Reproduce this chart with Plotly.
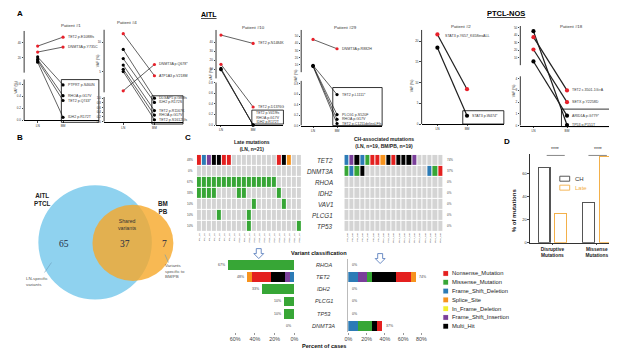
import plotly.graph_objects as go

W, H = 617, 349
FONT = "Liberation Sans, Arial, sans-serif"
SERIF = "Liberation Serif, Times New Roman, serif"
RED = "#e8212b"
INK = "#262626"

# ======================= DATA =======================
# Panel A : VAF (%) in lymph node (LN) and bone marrow (BM)
p1_names = ["TET2 p.E1088fs", "DNMT3A p.Y735C", "PTPRT p.S460N", "RHOA p.G17V", "TET2 p.Q743*", "IDH2 p.R172T"]
p1_ln = [35.6, 27.6, 21, 18, 16, 14]
p1_bm = [47.6, 34.3, 0.59, 0.41, 0.33, 0.05]
p1_red = [1, 1, 0, 0, 0, 0]

p4_names = ["ATP1A3 p.V218M", "DNMT3A p.Q678*", "DLGAP5 p.G88fs", "IDH2 p.R172S", "TET2 p.R1167K", "RHOA p.G17V", "TET2 p.S1612Lfs"]
p4_ln = [11.4, 1.76, 8.75, 7.2, 6.1, 5.4, 5.0]
p4_bm = [4.3, 6.2, 1.0, 0.82, 0.47, 0.28, 0.08]
p4_red = [1, 1, 0, 0, 0, 0, 0]

p10_names = ["TET2 p.N1484K", "TET2 p.D1376G", "TET2 p.V419fs", "RHOA p.G17V", "IDH2 p.R172T"]
p10_ln = [47.7, 15.5, 11, 10, 9.5]
p10_bm = [38.5, 0.34, 0, 0, 0]
p10_red = [1, 1, 0, 0, 0]

p29_names = ["DNMT3A p.R882H", "TET2 p.L1111*", "PLCG1 p.S520F", "RHOA p.G17V", "TET2 p.C1211delinsLFfs"]
p29_ln = [45.4, 9.5, 9, 8.5, 8]
p29_bm = [32.5, 0.59, 0.21, 0.12, 0.04]
p29_red = [1, 0, 0, 0, 0]

p2_names = ["STAT3 p.Y657_K658insALL", "STAT3 p.W474*"]
p2_ln = [21.6, 18.4]
p2_bm = [8.4, 2.0]
p2_red = [1, 0]

p18_names = ["TET2 c.3501-1G>A", "SETX p.Y2258D", "ARID1A p.G779*", "TP53 p.P151T"]
p18_ln = [37.6, 21, 5, 45.6]
p18_bm = [3.0, 2.0, 0.85, 0.05]
p18_red = [1, 1, 0, 0]

# Panel B : Venn counts
venn_ln_only = 65
venn_shared = 37
venn_bm_only = 7

# Panel C : oncoprints (codes: . none, M missense, N nonsense, D frameshift del,
#           S splice, I in-frame del, F frameshift ins, X multi hit)
heat_genes = ["TET2", "DNMT3A", "RHOA", "IDH2", "VAV1", "PLCG1", "TP53"]
late_samples = ["Pt%d_LN" % i for i in [1, 3, 4, 5, 6, 7, 8, 9, 10, 11, 12, 13, 14, 15, 16, 17, 18, 19, 20, 21, 22]]
late_TET2 = "NDFXXNN.........NXS.."
late_DNMT3A = "....................."
late_RHOA = "MMMMMMMMMMMMMMMM....."
late_IDH2 = "MMMM....MM......M...."
late_VAV1 = "...........M.....M..."
late_PLCG1 = "....M.....M.........."
late_TP53 = "..........M.........M"
late_pct = ["48%", "0%", "67%", "33%", "10%", "10%", "10%"]

ch_samples = ["Pt%d_BM" % i for i in [1, 2, 4, 5, 6, 8, 9, 10, 11, 12, 14, 15, 16, 17, 18, 19, 20, 21, 29]]
ch_TET2 = "DFXDMNNSXNXXXF....."
ch_DNMT3A = "MDMX............DMN"
ch_RHOA = "..................."
ch_IDH2 = "..................."
ch_VAV1 = "..................."
ch_PLCG1 = "..................."
ch_TP53 = "..................."
ch_pct = ["74%", "37%", "0%", "0%", "0%", "0%", "0%"]

# Panel C : variant classification bars (% of cases)
bar_genes = ["RHOA", "TET2", "IDH2", "PLCG1", "TP53", "DNMT3A"]
late_fsd = [0, 4.8, 0, 0, 0, 0]
late_fsi = [0, 4.8, 0, 0, 0, 0]
late_mis = [67, 0, 33, 10, 10, 0]
late_multi = [0, 14.3, 0, 0, 0, 0]
late_non = [0, 19.0, 0, 0, 0, 0]
late_spl = [0, 4.8, 0, 0, 0, 0]
late_bar_labels = ["67%", "48%", "33%", "10%", "10%", "0%"]
ch_fsd = [0, 10.5, 0, 0, 0, 10.5]
ch_fsi = [0, 10.5, 0, 0, 0, 0]
ch_mis = [0, 5.3, 0, 0, 0, 15.8]
ch_multi = [0, 26.3, 0, 0, 0, 5.3]
ch_non = [0, 15.8, 0, 0, 0, 5.3]
ch_spl = [0, 5.3, 0, 0, 0, 0]
ch_bar_labels = ["0%", "74%", "0%", "0%", "0%", "37%"]
pct_ticks = [0, 20, 40, 60, 80]

# Panel D
d_categories = ["<b>Disruptive<br>Mutations</b>", "<b>Missense<br>Mutations</b>"]
d_ch = [65, 35]
d_late = [25, 75]
d_ticks = [0, 20, 40, 60]

# ======================= STYLE =======================
class_codes = ".MNDSIFX"
class_names = ["None", "Missense_Mutation", "Nonsense_Mutation", "Frame_Shift_Deletion",
               "Splice_Site", "In_Frame_Deletion", "Frame_Shift_Insertion", "Multi_Hit"]
class_colors = ["#d4d4d4", "#37a636", "#e4201f", "#2c7bb6", "#f7931e", "#f2ee2c", "#7a3f9a", "#000000"]
COL = dict(zip(class_names, class_colors))


def px(x):
    return x / W


def py(y):
    return 1 - y / H


def ref(n, k):
    return k if n == 1 else f"{k}{n}"


def axkey(n, k):
    return f"{k}axis" if n == 1 else f"{k}axis{n}"


fig = go.Figure()
shapes, ann, axes = [], [], {}


def text(x, y, s, size, color=INK, xanchor="center", yanchor="middle", angle=0, family=FONT, **kw):
    d = dict(x=px(x), y=py(y), xref="paper", yref="paper", text=s, showarrow=False,
             xanchor=xanchor, yanchor=yanchor, textangle=angle,
             font=dict(size=size, color=color, family=family))
    d.update(kw)
    ann.append(d)


def rect(x0, y0, x1, y1, line="black", width=0.8, fill="rgba(0,0,0,0)"):
    shapes.append(dict(type="rect", xref="paper", yref="paper", x0=px(x0), x1=px(x1),
                       y0=py(y1), y1=py(y0), line=dict(color=line, width=width), fillcolor=fill))


def line(x0, y0, x1, y1, color="black", width=0.8):
    shapes.append(dict(type="line", xref="paper", yref="paper", x0=px(x0), x1=px(x1),
                       y0=py(y0), y1=py(y1), line=dict(color=color, width=width)))


# ======================= PANEL A =======================
patients = [
    dict(names=p1_names, ln=p1_ln, bm=p1_bm, red=p1_red, title="Patient #1",
         xl=12.3, xr=88, lnx=26, bmx=51.7, top=23, bot=113,
         lower=(0, 0, 0.68, 41.1), upper=(0, 48, 56, 90), tl=[0, 0.2, 0.4, 0.6], tu=[20, 40], lf="{:.1f}",
         tx=60, ty=18, vx=3.3, vy=80, box=(50, 72, 88, 115), boxlist=[], lnlab=[], lw=0.7, ms=3.2),
    dict(names=p4_names, ln=p4_ln, bm=p4_bm, red=p4_red, title="Patient #4",
         xl=93.3, xr=173.3, lnx=112.7, bmx=144.3, top=21.7, bot=115,
         lower=(0, 0.7, 1.05, 25.5), upper=(1.5, 30.2, 12.1, 93.3), tl=[0, 0.2, 0.4, 0.6, 0.8, 1.0], tu=[5, 10], lf="{:.1f}",
         tx=116.7, ty=15, vx=87.3, vy=53.3, box=(141.7, 88.3, 173.3, 116.7), boxlist=[], lnlab=[], lw=0.7, ms=3.2),
    dict(names=p10_names, ln=p10_ln, bm=p10_bm, red=p10_red, title="Patient #10",
         xl=206.7, xr=275, lnx=211.7, bmx=244.3, top=22, bot=117.7,
         lower=(0, 0, 0.8, 42.7), upper=(0, 46.9, 53.4, 95.7), tl=[0, 0.2, 0.4, 0.6, 0.8], tu=[10, 20, 30, 40], lf="{:.1f}",
         tx=244.3, ty=19.3, vx=201.7, vy=66.7, box=(243, 102.7, 275, 116.7), boxlist=[2, 3, 4], lnlab=[], lw=0.7, ms=3.2),
    dict(names=p29_names, ln=p29_ln, bm=p29_bm, red=p29_red, title="Patient #29",
         xl=293, xr=375, lnx=305, bmx=329.3, top=22, bot=118.3,
         lower=(0, 0, 0.85, 45), upper=(0, 53.75, 58.7, 96.3), tl=[0, 0.2, 0.4, 0.6, 0.8], tu=[10, 20, 30, 40, 50], lf="{:.1f}",
         tx=338.3, ty=19.3, vx=288, vy=68.3, box=(325, 80, 375, 118.3), boxlist=[], lnlab=[], lw=0.7, ms=3.2),
    dict(names=p2_names, ln=p2_ln, bm=p2_bm, red=p2_red, title="Patient #2",
         xl=415, xr=498.3, lnx=431, bmx=461, top=22, bot=116.7,
         lower=(0, 0, 22.7, 94.7), upper=None, tl=[0, 5, 10, 15, 20], tu=[], lf="{:g}",
         tx=455, ty=18.3, vx=405, vy=78, box=(456.7, 103.3, 498.3, 116.7), boxlist=[], lnlab=[0], lw=1.2, ms=4.2),
    dict(names=p18_names, ln=p18_ln, bm=p18_bm, red=p18_red, title="Patient #18",
         xl=515, xr=613, lnx=528.3, bmx=562.3, top=18, bot=118.3,
         lower=(0, 0, 4.2, 49.6), upper=(0, 60.8, 52.7, 100.3), tl=[0, 1, 2, 3, 4], tu=[10, 20, 30, 40, 50], lf="{:g}",
         tx=566.7, ty=18.3, vx=508.3, vy=83, box=(556.7, 101.7, 613.3, 119.3), boxlist=[], lnlab=[], lw=1.2, ms=4.2),
]


def seg_map(v, lower, upper):
    seg = lower if (upper is None or v <= lower[2]) else upper
    v0, p0, v1, p1 = seg
    return p0 + (v - v0) * (p1 - p0) / (v1 - v0)


for n, P in enumerate(patients, start=1):
    xr_, yr_ = ref(n, "x"), ref(n, "y")
    hh = P["bot"] - P["top"]
    span = P["bmx"] - P["lnx"]
    xrange = [-(P["lnx"] - P["xl"]) / span, 1 + (P["xr"] - P["bmx"]) / span]
    tickvals = [seg_map(t, P["lower"], P["upper"]) for t in P["tl"]] + \
               [seg_map(t, P["lower"], P["upper"]) for t in P["tu"]]
    ticktext = [P["lf"].format(t) for t in P["tl"]] + ["{:g}".format(t) for t in P["tu"]]
    order = [i for i in range(len(P["names"])) if not P["red"][i]] + [i for i in range(len(P["names"])) if P["red"][i]]
    for i in order:
        ya = seg_map(P["ln"][i], P["lower"], P["upper"])
        yb = seg_map(P["bm"][i], P["lower"], P["upper"])
        fig.add_trace(go.Scatter(x=[0, 1], y=[ya, yb], mode="lines+markers",
                                 line=dict(color="#1e1e1e", width=P["lw"]),
                                 marker=dict(color=RED if P["red"][i] else "black", size=P["ms"]),
                                 xaxis=xr_, yaxis=yr_, showlegend=False, hoverinfo="skip", cliponaxis=False))
        if i in P["boxlist"]:
            continue
        if i in P["lnlab"]:
            ann.append(dict(x=0, y=ya, xref=xr_, yref=yr_, text=P["names"][i], showarrow=False,
                            xanchor="left", xshift=6, yshift=-1.5, font=dict(size=3.6, color="#333", family=FONT)))
        else:
            ann.append(dict(x=1, y=yb, xref=xr_, yref=yr_, text=P["names"][i], showarrow=False,
                            xanchor="left", xshift=2.5, font=dict(size=3.6, color="#333", family=FONT)))
    if P["boxlist"]:
        bx0, by0, bx1, by1 = P["box"]
        text((bx0 + bx1) / 2, (by0 + by1) / 2, "<br>".join(P["names"][i] for i in P["boxlist"]), 3.5, "#333")
    # broken y-axis line
    segs = [P["lower"]] + ([P["upper"]] if P["upper"] else [])
    for j, s in enumerate(segs):
        top_p = hh if j == len(segs) - 1 else s[3]
        shapes.append(dict(type="line", xref=f"{xr_} domain", yref=yr_, x0=0, x1=0, y0=s[1], y1=top_p,
                           line=dict(color="black", width=0.8)))
    axes[axkey(n, "x")] = dict(domain=[px(P["xl"]), px(P["xr"])], range=xrange, anchor=yr_,
                               tickvals=[0, 1], ticktext=["LN", "BM"], showline=True, linecolor="black",
                               linewidth=0.8, ticks="outside", ticklen=1.5, tickwidth=0.6,
                               tickfont=dict(size=3.2, color="#333"), showgrid=False, zeroline=False)
    axes[axkey(n, "y")] = dict(domain=[py(P["bot"]), py(P["top"])], range=[0, hh], anchor=xr_,
                               tickvals=tickvals, ticktext=ticktext, ticks="outside", ticklen=1.5,
                               tickwidth=0.6, tickfont=dict(size=3.0, color="#333"), showline=False,
                               showgrid=False, zeroline=False)
    text(P["tx"], P["ty"], P["title"], 4.4, "#333")
    text(P["vx"], P["vy"], "VAF (%)", 3.4, "#333", angle=-90)
    bx0, by0, bx1, by1 = P["box"]
    rect(bx0, by0, bx1, by1, width=0.8)

text(2.7, 6, "<b>A</b>", 8, "black", xanchor="left")
text(200, 7, "<b><u>AITL</u></b>", 7, "black")
text(500, 6, "<b><u>PTCL-NOS</u></b>", 7.5, "black")

# ======================= PANEL B =======================
text(3.3, 130, "<b>B</b>", 8, "black", xanchor="left")
shapes.append(dict(type="circle", xref="paper", yref="paper", x0=px(26.7), x1=px(141.7),
                   y0=py(293.3), y1=py(178.3), fillcolor="#8fd2ef", line=dict(width=0)))
shapes.append(dict(type="circle", xref="paper", yref="paper", x0=px(81.5), x1=px(163.5),
                   y0=py(274.5), y1=py(198), fillcolor="rgba(246,168,40,0.80)", line=dict(width=0)))
text(31, 193, "<b>AITL<br>PTCL</b>", 6.3, "#222")
text(153, 201, "<b>BM<br>PB</b>", 6.3, "#222")
text(117, 218, "Shared<br>variants", 5.2, "#333")
text(53, 237, str(venn_ln_only), 9.5, "#1d2a44", family=SERIF)
text(114, 237, str(venn_shared), 9.5, "#1d2a44", family=SERIF)
text(154, 237, str(venn_bm_only), 9.5, "#1d2a44", family=SERIF)
text(11.7, 275.5, "LN-specific<br>variants", 4.4, "#555", xanchor="left", align="left")
line(40, 256, 33, 266, "#6a9ab8", 0.6)
text(153, 264.3, "Variants<br>specific to<br>BM/PB", 4.4, "#555", xanchor="left", align="left")
line(155, 248, 158.5, 256, "#6a9ab8", 0.6)

# ======================= PANEL C : heatmaps =======================
text(178.3, 130, "<b>C</b>", 8, "black")
text(243, 138, "<b>Late mutations<br>(LN, n=21)</b>", 5, "#222")
text(377, 135, "<b>CH-associated mutations<br>(LN, n=19, BM/PB, n=19)</b>", 5, "#222")

n_cls = len(class_colors)
cscale = []
for k, c in enumerate(class_colors):
    cscale += [[k / n_cls, c], [(k + 1) / n_cls, c]]

late_rows = [late_TET2, late_DNMT3A, late_RHOA, late_IDH2, late_VAV1, late_PLCG1, late_TP53]
ch_rows = [ch_TET2, ch_DNMT3A, ch_RHOA, ch_IDH2, ch_VAV1, ch_PLCG1, ch_TP53]

for n, rows, samples, dom in [(7, late_rows, late_samples, (187.3, 294)), (8, ch_rows, ch_samples, (336.7, 436.7))]:
    z = [[class_codes.index(c) for c in r] for r in rows]
    fig.add_trace(go.Heatmap(z=z, x=list(range(len(samples))), y=list(range(len(rows))),
                             colorscale=cscale, zmin=-0.5, zmax=n_cls - 0.5, showscale=False,
                             xgap=1, ygap=1, hoverinfo="skip",
                             xaxis=ref(n, "x"), yaxis=ref(n, "y")))
    axes[axkey(n, "x")] = dict(domain=[px(dom[0]), px(dom[1])], range=[-0.5, len(samples) - 0.5],
                               anchor=ref(n, "y"), tickvals=list(range(len(samples))), ticktext=samples,
                               tickangle=-90, tickfont=dict(size=2.4, color="#444"), ticks="",
                               showgrid=False, zeroline=False, showline=False)
    axes[axkey(n, "y")] = dict(domain=[py(225), py(147.7)], range=[len(rows) - 0.5, -0.5],
                               anchor=ref(n, "x"), showticklabels=False, ticks="", showgrid=False,
                               zeroline=False, showline=False)

for i, g in enumerate(heat_genes):
    ann.append(dict(x=px(185.5), y=i, xref="paper", yref="y7", text=late_pct[i], showarrow=False,
                    xanchor="right", font=dict(size=3, color="#444", family=FONT)))
    ann.append(dict(x=px(438.5), y=i, xref="paper", yref="y8", text=ch_pct[i], showarrow=False,
                    xanchor="left", font=dict(size=3, color="#444", family=FONT)))
    ann.append(dict(x=px(327), y=i, xref="paper", yref="y8", text=f"<i>{g}</i>", showarrow=False,
                    xanchor="right", font=dict(size=6.3, color="#333", family=FONT)))

# ======================= PANEL C : bars =======================
stack = [("Frame_Shift_Deletion", late_fsd, ch_fsd), ("Frame_Shift_Insertion", late_fsi, ch_fsi),
         ("Missense_Mutation", late_mis, ch_mis), ("Multi_Hit", late_multi, ch_multi),
         ("Nonsense_Mutation", late_non, ch_non), ("Splice_Site", late_spl, ch_spl)]
for cname, lv, cv in stack:
    fig.add_trace(go.Bar(x=lv, y=bar_genes, orientation="h", marker=dict(color=COL[cname], line=dict(width=0)),
                         xaxis="x9", yaxis="y9", showlegend=False, hoverinfo="skip"))
    fig.add_trace(go.Bar(x=cv, y=bar_genes, orientation="h", marker=dict(color=COL[cname], line=dict(width=0)),
                         xaxis="x10", yaxis="y10", showlegend=False, hoverinfo="skip"))

late_tot = [sum(s[1][i] for s in stack) for i in range(len(bar_genes))]
ch_tot = [sum(s[2][i] for s in stack) for i in range(len(bar_genes))]
for i, g in enumerate(bar_genes):
    ann.append(dict(x=late_tot[i], y=g, xref="x9", yref="y9", text=late_bar_labels[i], showarrow=False,
                    xanchor="right", xshift=-1, font=dict(size=3.5, color="#444", family=FONT)))
    ann.append(dict(x=ch_tot[i], y=g, xref="x10", yref="y10", text=ch_bar_labels[i], showarrow=False,
                    xanchor="left", xshift=1.5, font=dict(size=3.5, color="#444", family=FONT)))
    ann.append(dict(x=px(316), y=g, xref="paper", yref="y10", text=f"<i>{g}</i>", showarrow=False,
                    xanchor="center", font=dict(size=5.6, color="#333", family=FONT)))

bar_y_dom = [py(326), py(252)]
axes["xaxis9"] = dict(domain=[px(216), px(286)], range=[70, 0], anchor="y9", tickvals=pct_ticks[:4],
                      ticktext=[f"{t}%" for t in pct_ticks[:4]], tickfont=dict(size=5.4, color="#444"),
                      ticks="outside", ticklen=1.5, tickcolor="#999", showgrid=False, zeroline=False, showline=False)
axes["yaxis9"] = dict(domain=bar_y_dom, anchor="x9", type="category", categoryorder="array",
                      categoryarray=bar_genes, autorange="reversed", showticklabels=False, ticks="",
                      showgrid=False, zeroline=False, showline=False)
axes["xaxis10"] = dict(domain=[px(340.7), px(416.7)], range=[0, 82], anchor="y10", tickvals=pct_ticks,
                       ticktext=[f"{t}%" for t in pct_ticks], tickfont=dict(size=5.4, color="#444"),
                       ticks="outside", ticklen=1.5, tickcolor="#999", showgrid=False, zeroline=False, showline=False)
axes["yaxis10"] = dict(domain=bar_y_dom, anchor="x10", type="category", categoryorder="array",
                       categoryarray=bar_genes, autorange="reversed", showticklabels=False, ticks="",
                       showgrid=False, zeroline=False, showline=True, linecolor="#bbbbbb", linewidth=0.6)

text(311, 246.5, "<b>Variant classification</b>", 5.6, "#111")
text(316, 339.5, "<b>Percent of cases</b>", 5.6, "#111", borderpad=0)


def down_arrow(cx, y0):
    pts = [(cx - 2.5, y0), (cx + 2.5, y0), (cx + 2.5, y0 + 5), (cx + 5, y0 + 5), (cx, y0 + 10),
           (cx - 5, y0 + 5), (cx - 2.5, y0 + 5)]
    path = "M " + " L ".join(f"{px(a):.5f},{py(b):.5f}" for a, b in pts) + " Z"
    shapes.append(dict(type="path", xref="paper", yref="paper", path=path,
                       line=dict(color="#4a72b8", width=0.8), fillcolor="white"))


down_arrow(250, 242)
down_arrow(373, 247)

legend_order = ["Nonsense_Mutation", "Missense_Mutation", "Frame_Shift_Deletion", "Splice_Site",
                "In_Frame_Deletion", "Frame_Shift_Insertion", "Multi_Hit"]
for k, cname in enumerate(legend_order):
    yc = 267 + k * 8.85
    rect(437, yc - 2.4, 441.8, yc + 2.4, line=COL[cname], width=0.1, fill=COL[cname])
    text(443.5, yc, cname, 5.8, "#222", xanchor="left")

# ======================= PANEL D =======================
text(502, 134, "<b>D</b>", 8, "black")
fig.add_trace(go.Bar(x=[0, 1], y=d_ch, width=0.267, offset=-0.322,
                     marker=dict(color="white", line=dict(color="#555555", width=1.1)),
                     xaxis="x11", yaxis="y11", showlegend=False, hoverinfo="skip"))
fig.add_trace(go.Bar(x=[0, 1], y=d_late, width=0.267, offset=0.056,
                     marker=dict(color="white", line=dict(color="#f3b04a", width=1.1)),
                     xaxis="x12", yaxis="y11", showlegend=False, hoverinfo="skip"))
axes["xaxis11"] = dict(domain=[px(525), px(615)], range=[-0.5, 1.5], anchor="y11", tickvals=[0, 1],
                       ticktext=d_categories, tickfont=dict(size=4.8, color="#222"), ticks="outside",
                       ticklen=1.5, showline=True, linecolor="#333", linewidth=0.8, showgrid=False, zeroline=False)
axes["xaxis12"] = dict(overlaying="x11", anchor="y11", range=[-0.5, 1.5], visible=False)
axes["yaxis11"] = dict(domain=[py(236), py(147)], range=[0, 77], anchor="x11", tickvals=d_ticks,
                       tickfont=dict(size=4, color="#333"), ticks="outside", ticklen=1.8, showline=True,
                       linecolor="#333", linewidth=0.8, showgrid=False, zeroline=False)
text(508, 203, "<b>% of mutations</b>", 6, "#222", angle=-90)
text(550, 142, "****", 5, "#333")
text(593.5, 142, "****", 5, "#333")
line(541.7, 148.3, 560, 148.3, "#555", 0.7)
line(584, 148.3, 602.7, 148.3, "#555", 0.7)
rect(555, 169.2, 565, 174.2, line="#444", width=0.9)
text(568, 171.7, "CH", 6, "#333", xanchor="left")
rect(555, 178.2, 565, 183.2, line="#f3b04a", width=0.9)
text(568, 180.7, "Late", 6, "#f3b04a", xanchor="left")

# ======================= LAYOUT =======================
fig.update_layout(width=W, height=H, margin=dict(l=0, r=0, t=0, b=0), autosize=False,
                  paper_bgcolor="white", plot_bgcolor="rgba(0,0,0,0)",
                  font=dict(family=FONT, color=INK), barmode="stack", bargap=0.2,
                  showlegend=False, shapes=shapes, annotations=ann, **axes)
fig.write_html("out.html")
